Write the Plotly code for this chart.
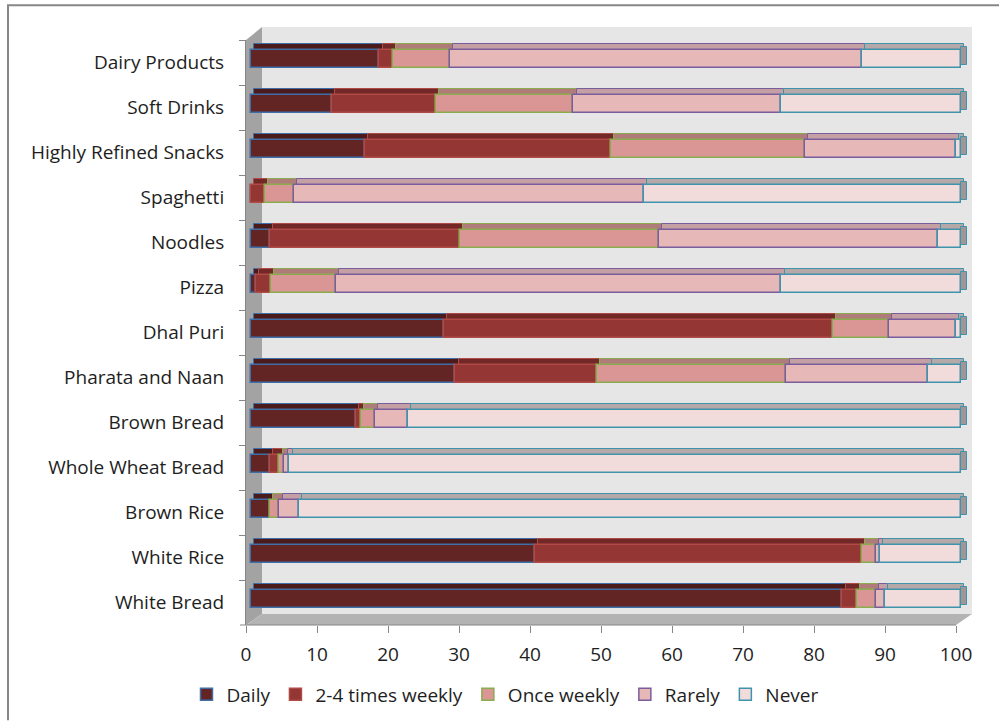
import plotly.graph_objects as go
import numpy as np

categories = ["Dairy Products", "Soft Drinks", "Highly Refined Snacks", "Spaghetti",
              "Noodles", "Pizza", "Dhal Puri", "Pharata and Naan", "Brown Bread",
              "Whole Wheat Bread", "Brown Rice", "White Rice", "White Bread"]
series_names = ["Daily", "2-4 times weekly", "Once weekly", "Rarely", "Never"]
daily = [18.1, 11.4, 16.1, 0.0, 2.7, 0.7, 27.2, 28.8, 14.8, 2.7, 2.7, 40.0, 83.3]
weekly_2_4 = [1.9, 14.6, 34.6, 2.0, 26.7, 2.1, 54.8, 19.9, 0.7, 1.3, 0.0, 46.1, 2.0]
once_weekly = [8.0, 19.4, 27.3, 4.0, 28.0, 9.2, 7.9, 26.7, 2.0, 0.7, 1.3, 1.9, 2.7]
rarely = [58.0, 29.2, 21.3, 49.3, 39.3, 62.7, 9.4, 20.0, 4.6, 0.7, 2.7, 0.6, 1.3]
never = [14.0, 25.4, 0.7, 44.7, 3.3, 25.3, 0.7, 4.6, 77.9, 94.6, 93.3, 11.4, 10.7]
x_ticks = list(range(0, 101, 10))

series_values = [daily, weekly_2_4, once_weekly, rarely, never]
front_colors = ["#632523", "#943634", "#d99694", "#e6b9b8", "#f2dcdb"]
top_colors = ["#4a1b1a", "#722826", "#b07c7a", "#c4a0a4", "#b5a8a8"]
border_colors = ["#3f6ea8", "#b04a47", "#8bab4f", "#7a5d9c", "#3f93ab"]

W, H = 999, 725
L, R, T, B = 246, 27, 40, 95
PW, PH = W - L - R, H - T - B
X100_PX = 956  # pixel where value 100 sits on the tick axis
x_max = 100 * PW / (X100_PX - L)
depth = 0.7  # 3D shift of the bar front faces, in axis units


def px(x):
    return (x - L) / PW


def py(y):
    return (H - B - y) / PH


fig = go.Figure()

# invisible anchor trace so the tick axis is drawn
fig.add_trace(go.Scatter(x=[0, 100], y=[categories[0], categories[-1]], xaxis="x", yaxis="y",
                         mode="markers", marker=dict(opacity=0), showlegend=False,
                         hoverinfo="skip"))

cum = np.zeros(len(categories))
starts = []
for vals in series_values:
    starts.append(cum.copy())
    cum = cum + np.array(vals)

# top faces (3D depth)
for i, vals in enumerate(series_values):
    fig.add_trace(go.Bar(
        y=categories, x=vals, base=starts[i] + 0.45, orientation="h",
        xaxis="x2", yaxis="y", width=0.16, offset=-0.42,
        marker=dict(color=top_colors[i], line=dict(color=border_colors[i], width=1)),
        showlegend=False, hoverinfo="skip"))

# right side face of the full bar
fig.add_trace(go.Bar(
    y=categories, x=[0.85] * len(categories), base=cum, orientation="h",
    xaxis="x2", yaxis="y", width=0.40, offset=-0.35,
    marker=dict(color="#a09696", line=dict(color=border_colors[4], width=1)),
    showlegend=False, hoverinfo="skip"))

# front faces
for i, vals in enumerate(series_values):
    fig.add_trace(go.Bar(
        y=categories, x=vals, base=starts[i], orientation="h",
        xaxis="x2", yaxis="y", width=0.40, offset=-0.28, name=series_names[i],
        marker=dict(color=front_colors[i], line=dict(color=border_colors[i], width=1.5))))

# 3D walls
wall_back = f"M {px(262)} {py(27)} L {px(972)} {py(27)} L {px(972)} {py(619)} L {px(262)} {py(619)} Z"
wall_left = f"M {px(246)} {py(40)} L {px(262)} {py(27)} L {px(262)} {py(619)} L {px(246)} {py(630)} Z"
floor = f"M {px(246)} {py(630)} L {px(262)} {py(619)} L {px(972)} {py(619)} L {px(956)} {py(630)} Z"
frame = f"M {px(8)} {py(726)} L {px(8)} {py(5)} L {px(1002)} {py(5)}"
shapes = [
    dict(type="path", path=wall_back, xref="paper", yref="paper", layer="below",
         fillcolor="#e6e6e6", line=dict(width=0)),
    dict(type="path", path=wall_left, xref="paper", yref="paper", layer="below",
         fillcolor="#a3a3a3", line=dict(width=0)),
    dict(type="path", path=floor, xref="paper", yref="paper", layer="below",
         fillcolor="#b3b3b3", line=dict(width=0)),
    dict(type="line", x0=px(240), x1=px(956), y0=0, y1=0, xref="paper", yref="paper",
         layer="below", line=dict(color="#868686", width=1)),
    dict(type="path", path=frame, xref="paper", yref="paper", layer="below",
         line=dict(color="#878787", width=2)),
]

font = dict(family="'Open Sans', Lato, sans-serif", size=19, color="#1e1e1e")
legend_font = dict(family="'Open Sans', Lato, sans-serif", size=19, color="#1e1e1e")

fig.update_layout(
    width=W, height=H,
    margin=dict(l=L, r=R, t=T, b=B, pad=0),
    paper_bgcolor="white", plot_bgcolor="rgba(0,0,0,0)",
    barmode="overlay", bargap=0,
    font=font,
    shapes=shapes,
    xaxis=dict(range=[0, x_max], tickvals=x_ticks, ticktext=[str(v) for v in x_ticks],
               ticks="outside", ticklen=7, tickcolor="#868686", showline=False,
               showgrid=False, zeroline=False, tickfont=font, ticklabelstandoff=5),
    xaxis2=dict(range=[-depth, x_max - depth], overlaying="x", anchor="y", visible=False,
                showgrid=False),
    yaxis=dict(categoryorder="array", categoryarray=categories,
               range=[len(categories) - 0.5, -0.5], autorange=False,
               tickson="boundaries", ticks="outside", ticklen=6, tickcolor="#868686",
               showline=True, linecolor="#868686", linewidth=1, showgrid=False,
               tickfont=font, ticklabelstandoff=17),
    legend=dict(orientation="h", x=px(505), y=py(700), xanchor="center", yanchor="middle",
                font=legend_font, itemwidth=30, traceorder="normal",
                bgcolor="rgba(0,0,0,0)"),
)

fig.write_html("out.html")
